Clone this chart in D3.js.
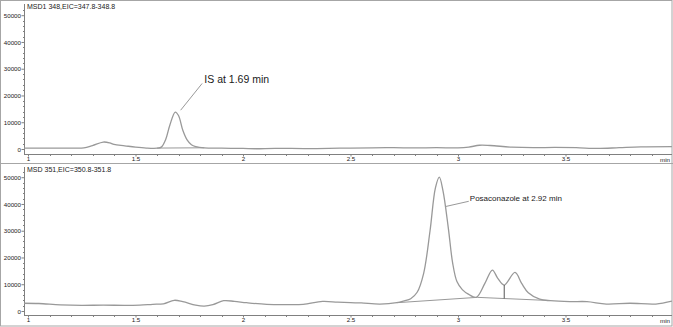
<!DOCTYPE html>
<html><head><meta charset="utf-8">
<script src="https://cdn.jsdelivr.net/npm/d3@7"></script>
<style>
html,body{margin:0;padding:0;background:#fff;}
svg{display:block;font-family:"Liberation Sans",Arial,sans-serif;}
</style></head>
<body><svg id="c" width="673" height="327"></svg>
<script>
// ---- data ----
const panelTitles = ["MSD1 348,EIC=347.8-348.8", "MSD 351,EIC=350.8-351.8"];
const xTicks = [1, 1.5, 2, 2.5, 3, 3.5];
const yTicks = [0, 10000, 20000, 30000, 40000, 50000];
const xUnit = "min";

// top trace: IS (m/z 348)
const topTime = [0.98,1.10,1.20,1.26,1.30,1.35,1.38,1.40,1.45,1.50,1.55,1.60,1.62,1.64,1.66,1.685,1.70,1.72,1.74,1.76,1.78,1.82,1.90,2.00,2.06,2.15,2.30,2.45,2.60,2.70,2.80,2.90,3.00,3.05,3.10,3.15,3.25,3.35,3.45,3.55,3.65,3.75,3.85,3.995];
const topSignal = [300,300,320,400,1300,2600,2300,1700,1200,700,350,300,700,3500,9000,13800,12500,7000,3400,1600,900,400,300,200,100,250,150,300,450,500,400,500,400,700,1400,1300,700,500,600,500,200,500,800,900];
const topBaseTime = [1.60, 1.82];
const topBaseSignal = [350, 450];

// bottom trace: posaconazole (m/z 351)
const botTime = [0.98,1.05,1.15,1.25,1.35,1.45,1.52,1.58,1.63,1.68,1.72,1.78,1.82,1.86,1.91,1.96,2.017,2.11,2.20,2.28,2.37,2.44,2.50,2.55,2.637,2.715,2.75,2.78,2.81,2.84,2.87,2.895,2.913,2.93,2.955,2.975,2.995,3.02,3.05,3.085,3.125,3.16,3.185,3.215,3.265,3.296,3.327,3.38,3.43,3.52,3.60,3.69,3.80,3.92,3.995];
const botSignal = [2900,2800,2300,2100,2200,2100,2200,2500,2700,4000,3500,2200,1850,2400,3850,3600,3100,2500,2400,2500,3600,3300,3100,3000,2600,3100,3800,4600,7000,14000,30000,46000,50000,45000,31000,18000,11000,8000,6200,5100,10300,15300,12200,9700,14400,10300,6800,4400,3850,3500,3500,2600,2900,2600,3700];
const botBaseTime = [2.715, 3.09, 3.43];
const botBaseSignal = [3100, 5100, 3900];
const dropTime = [3.215];
const dropTopSignal = [9700];

const annotations = [
  {panel:0, text:"IS at 1.69 min", size:10.5, tx:1.82, ty:26000, lx0:1.81, ly0:24500, lx1:1.71, ly1:14500},
  {panel:1, text:"Posaconazole at 2.92 min", size:8, tx:3.055, ty:42000, lx0:3.05, ly0:41000, lx1:2.94, ly1:39000}
];

// ---- layout ----
const W = 673, H = 327;
const svg = d3.select("#c");
const x = d3.scaleLinear().domain([1, 3.5]).range([28, 565.5]);
const plotL = 24, plotR = 672;
const panels = [
  {y: d3.scaleLinear().domain([0, 50000]).range([149, 15.2]), axisY: 154.5, top: 1, bottom: 163},
  {y: d3.scaleLinear().domain([0, 50000]).range([311, 177.2]), axisY: 315.5, top: 164, bottom: 326}
];
const axisCol = "#808080", traceCol = "#999999", textCol = "#1a1a1a";

svg.append("rect").attr("x",0.5).attr("y",0.5).attr("width",W-1.5).attr("height",H-1.5)
  .attr("fill","none").attr("stroke","#a6a6a6");
svg.append("line").attr("x1",0).attr("x2",W).attr("y1",163.5).attr("y2",163.5).attr("stroke","#a6a6a6");

svg.append("defs").append("clipPath").attr("id","clip")
  .append("rect").attr("x",plotL).attr("y",0).attr("width",plotR-plotL).attr("height",H);

const traces = [
  {t: topTime, v: topSignal, bt: topBaseTime, bv: topBaseSignal},
  {t: botTime, v: botSignal, bt: botBaseTime, bv: botBaseSignal}
];

panels.forEach((p, i) => {
  const g = svg.append("g");
  g.append("line").attr("x1",plotL+0.5).attr("x2",plotL+0.5).attr("y1",p.top+3).attr("y2",p.axisY)
    .attr("stroke",axisCol);
  g.append("line").attr("x1",plotL).attr("x2",plotR).attr("y1",p.axisY).attr("y2",p.axisY)
    .attr("stroke",axisCol);
  const yAxis = d3.axisLeft(p.y).tickValues(yTicks).tickSize(3).tickFormat(d3.format("d"));
  const ya = g.append("g").attr("transform",`translate(${plotL+0.5},0)`).call(yAxis);
  ya.select(".domain").remove();
  ya.selectAll("line").attr("stroke",axisCol);
  ya.selectAll("text").attr("font-size",6.2).attr("fill",textCol).attr("x",-3.5).attr("dy","0.35em")
    .attr("font-family","Liberation Sans, Arial, sans-serif");
  const minor = d3.range(2000, 52001, 2000).filter(d => d % 10000 !== 0);
  g.selectAll(".ym").data(minor).join("line")
    .attr("x1",plotL-1).attr("x2",plotL+0.5).attr("y1",d=>Math.round(p.y(d))+0.5).attr("y2",d=>Math.round(p.y(d))+0.5)
    .attr("stroke",axisCol);
  const xa = g.append("g").attr("transform",`translate(0,${p.axisY})`)
    .call(d3.axisBottom(x).tickValues(xTicks).tickSize(2).tickFormat(d => d3.format("")(d)));
  xa.select(".domain").remove();
  xa.selectAll("line").attr("stroke",axisCol);
  xa.selectAll("text").attr("font-size",6.2).attr("fill",textCol).attr("y",2).attr("dy","0.71em");
  const xminor = d3.range(1.1, 4.0, 0.1).filter(d => Math.abs(d*2 - Math.round(d*2)) > 0.01);
  g.selectAll(".xm").data(xminor).join("line")
    .attr("x1",d=>Math.round(x(d))+0.5).attr("x2",d=>Math.round(x(d))+0.5)
    .attr("y1",p.axisY).attr("y2",p.axisY+1.5).attr("stroke",axisCol);
  g.append("text").attr("x",670).attr("y",p.axisY+3.5).attr("dy","0.71em").attr("text-anchor","end")
    .attr("font-size",6.2).attr("fill",textCol).text(xUnit);
  g.append("text").attr("x",27).attr("y",p.top+6).attr("dy","0.35em").attr("font-size",7)
    .attr("fill",textCol).text(panelTitles[i]);

  const tr = traces[i];
  const line = d3.line().x(d => x(d[0])).y(d => p.y(d[1])).curve(d3.curveCatmullRom.alpha(0.5));
  const lin = d3.line().x(d => x(d[0])).y(d => p.y(d[1]));
  const pg = g.append("g").attr("clip-path","url(#clip)");
  pg.append("path").datum(tr.bt.map((t,k)=>[t,tr.bv[k]])).attr("d",lin)
    .attr("fill","none").attr("stroke",traceCol).attr("stroke-width",1);
  pg.append("path").datum(tr.t.map((t,k)=>[t,tr.v[k]])).attr("d",line)
    .attr("fill","none").attr("stroke",traceCol).attr("stroke-width",1.3);
  if (i === 1) {
    const baseAt = d3.scaleLinear().domain(botBaseTime).range(botBaseSignal);
    dropTime.forEach((t,k) => {
      pg.append("line").attr("x1",x(t)).attr("x2",x(t))
        .attr("y1",p.y(baseAt(t))).attr("y2",p.y(dropTopSignal[k]))
        .attr("stroke","#555").attr("stroke-width",1);
    });
  }
});

annotations.forEach(a => {
  const p = panels[a.panel];
  svg.append("line").attr("x1",x(a.lx0)).attr("y1",p.y(a.ly0)).attr("x2",x(a.lx1)).attr("y2",p.y(a.ly1))
    .attr("stroke","#999").attr("stroke-width",1);
  svg.append("text").attr("x",x(a.tx)).attr("y",p.y(a.ty)).attr("dy","0.35em")
    .attr("font-size",a.size).attr("fill",textCol).text(a.text);
});
</script></body></html>
